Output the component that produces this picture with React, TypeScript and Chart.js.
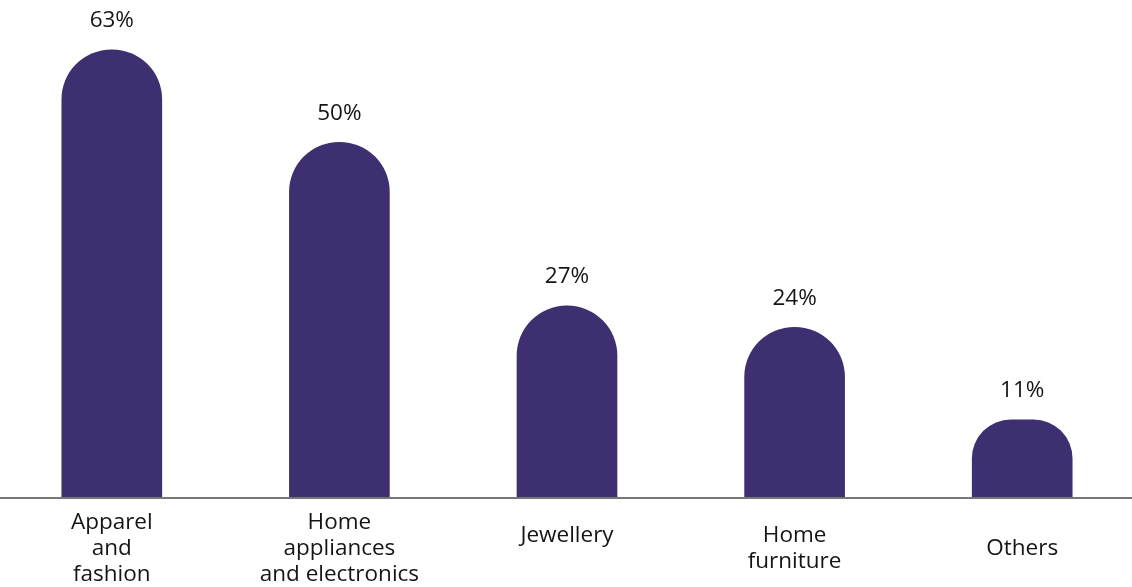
import React, { useEffect, useRef } from "react";
import { Chart, registerables } from "chart.js";

Chart.register(...registerables);

const categories: (string | string[])[] = [
  ["Apparel", "and", "fashion"],
  ["Home", "appliances", "and electronics"],
  ["Jewellery", ""],
  ["Home", "furniture"],
  ["Others"],
];
const shares = [63, 50, 27, 24, 11];
const valueLabels = ["63%", "50%", "27%", "24%", "11%"];

const barColor = "#3e2f70";
const textColor = "#151515";
const fontFamily = "'Open Sans', 'Noto Sans', sans-serif";

const valueLabelPlugin = {
  id: "valueLabels",
  afterDatasetsDraw(chart: any) {
    const ctx = chart.ctx;
    const meta = chart.getDatasetMeta(0);
    ctx.save();
    ctx.font = `22.5px ${fontFamily}`;
    ctx.fillStyle = textColor;
    ctx.textAlign = "center";
    ctx.textBaseline = "middle";
    meta.data.forEach((bar: any, i: number) => {
      ctx.fillText(valueLabels[i], bar.x, bar.y - 29);
    });
    ctx.restore();
  },
};

export default function App() {
  const canvasRef = useRef<HTMLCanvasElement | null>(null);

  useEffect(() => {
    if (!canvasRef.current) return;
    const chart = new Chart(canvasRef.current, {
      type: "bar",
      data: {
        labels: categories,
        datasets: [
          {
            data: shares,
            backgroundColor: barColor,
            borderRadius: { topLeft: 50, topRight: 50, bottomLeft: 0, bottomRight: 0 },
            borderSkipped: "bottom",
            barThickness: 100,
          },
        ],
      },
      options: {
        animation: false,
        responsive: true,
        maintainAspectRatio: false,
        layout: { padding: 0 },
        plugins: {
          legend: { display: false },
          tooltip: { enabled: false },
        },
        scales: {
          x: {
            grid: { display: false, drawTicks: false },
            border: { display: true, color: "#777777", width: 2, z: 1 },
            ticks: {
              color: textColor,
              font: { family: fontFamily, size: 22.5, lineHeight: 1.155 },
              crossAlign: "center",
              maxRotation: 0,
              autoSkip: false,
              padding: 25,
            },
            afterFit: (scale: any) => {
              scale.height = 89;
            },
          },
          y: {
            display: false,
            min: 0,
            max: 70,
          },
        },
      },
      plugins: [valueLabelPlugin],
    });
    return () => chart.destroy();
  }, []);

  return (
    <div style={{ position: "absolute", left: -2, top: 0, width: 1138, height: 587 }}>
      <canvas ref={canvasRef} />
    </div>
  );
}
